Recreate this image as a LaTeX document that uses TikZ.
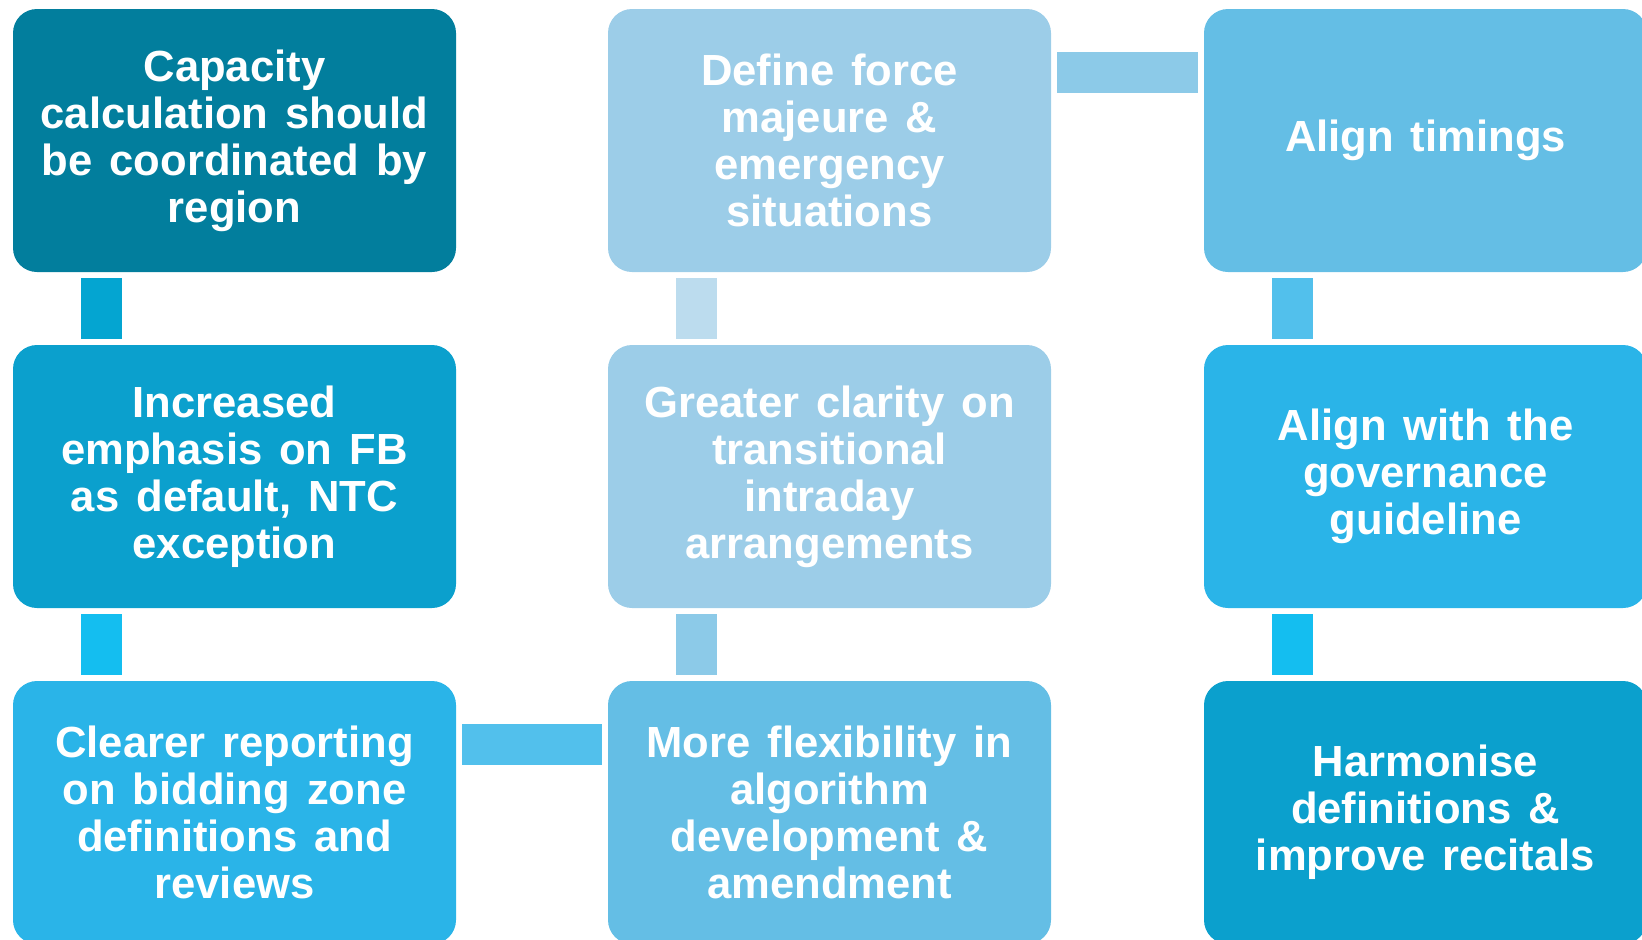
\documentclass[tikz,border=0pt]{standalone}
\usepackage{fontspec}
\setmainfont{Liberation Sans}[WordSpace=1.4]
\usetikzlibrary{positioning}

% box fills
\definecolor{boxdark}{HTML}{027E9D}
\definecolor{boxmid}{HTML}{0BA0CD}
\definecolor{boxbright}{HTML}{2AB4E8}
\definecolor{boxsoft}{HTML}{64BEE5}
\definecolor{boxpale}{HTML}{9CCDE8}
% connector fills
\definecolor{linkA}{HTML}{04A5D1}
\definecolor{linkB}{HTML}{14BEF0}
\definecolor{linkC}{HTML}{52C0EC}
\definecolor{linkD}{HTML}{8CCAE8}
\definecolor{linkE}{HTML}{BCDCEE}

\tikzset{
  box/.style={rounded corners=12pt, minimum width=221.5pt, minimum height=131.5pt,
    inner sep=0pt, text=white, align=center,
    font=\bfseries\fontsize{21.8}{23.5}\selectfont},
  link/.style={line width=20.5pt, line cap=butt, shorten <=2.9pt, shorten >=2.9pt}
}

\begin{document}
\begin{tikzpicture}[x=0.5pt,y=-0.5pt]
		\useasboundingbox (0,0) rectangle (1642,939);
		
		% the nine boxes, name/x/y/fill/text
		\foreach \myname/\mx/\my/\mycol/\mytext in {
			b11/234.5/140.5/boxdark/{Capacity\\calculation should\\be coordinated by\\region},
			b21/234.5/476.5/boxmid/{Increased\\emphasis on FB\\as default, NTC\\exception},
			b31/234.5/812.5/boxbright/{Clearer reporting\\on bidding zone\\definitions and\\reviews},
			b12/829.5/140.5/boxpale/{Define force\\majeure \&\\emergency\\situations},
			b22/829.5/476.5/boxpale/{Greater clarity on\\transitional\\intraday\\arrangements},
			b32/829.5/812.5/boxsoft/{More flexibility in\\algorithm\\development \&\\amendment},
			b13/1425.5/140.5/boxsoft/{Align timings},
			b23/1425.5/476.5/boxbright/{Align with the\\governance\\guideline},
			b33/1425.5/812.5/boxmid/{Harmonise\\definitions \&\\improve recitals}} {
			\node[box,fill=\mycol] (\myname) at (\mx,\my) {\mytext};
		}
		
		% vertical bars between rows
		\foreach \from/\to/\mycol in {b11/b21/linkA,b21/b31/linkB,b12/b22/linkE,
			b22/b32/linkD,b13/b23/linkC,b23/b33/linkB} {
			\draw[link,draw=\mycol] ([xshift=44.25pt]\from.south west) -- ([xshift=44.25pt]\to.north west);
		}
		
		% horizontal bars between columns
		\foreach \from/\to/\mycol in {b31/b32/linkC,b12/b13/linkD} {
			\draw[link,draw=\mycol] ([yshift=-31.75pt]\from.north east) -- ([yshift=-31.75pt]\to.north west);
		}
\end{tikzpicture}
\end{document}
